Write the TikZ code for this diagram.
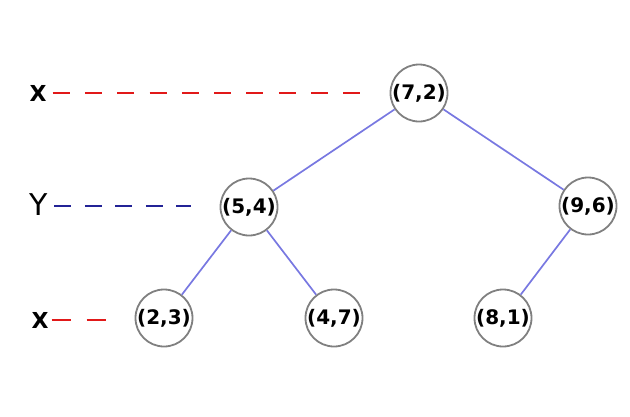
\documentclass[tikz,border=0pt]{standalone}
\usepackage{fontspec}
\setmainfont{DejaVu Sans}
\usepackage{tikz}
\usetikzlibrary{positioning, calc}

\definecolor{edgeblue}{RGB}{120,120,225}
\definecolor{guidered}{RGB}{225,25,25}
\definecolor{guideblue}{RGB}{35,35,150}
\definecolor{ringgray}{RGB}{128,128,128}

\begin{document}
\begin{tikzpicture}[
    x=1pt, y=-1pt,
    kdnode/.style={draw=ringgray, circle, line width=1.8pt, minimum size=57pt, inner sep=0pt, fill=white, font=\fontsize{20}{20}\selectfont\bfseries},
    kdedge/.style={draw=edgeblue, line width=1.7pt},
    guide/.style={line width=2pt, dash pattern=on 17pt off 15.3pt},
    axislbl/.style={inner sep=3pt, font=\fontsize{22}{22}\selectfont\bfseries}
]
    \useasboundingbox (0,0) rectangle (630,416);
    % axis labels and split guides
    \node[axislbl] (ax0) at (38,93) {X};
    \node[axislbl, inner sep=4pt, font=\fontsize{30}{30}\selectfont] (ax1) at (39,205) {Y};
    \node[axislbl] (ax2) at (40,320) {X};
    \coordinate (ge0) at (360,93);
    \coordinate (ge1) at (191,206);
    \coordinate (ge2) at (106,320);
    % tree nodes
    \node[kdnode] (n72) at (419,93) {(7,2)};
    \node[kdnode] (n54) at (249,207) {(5,4)};
    \node[kdnode] (n96) at (588,206) {(9,6)};
    \node[kdnode] (n23) at (164,318) {(2,3)};
    \node[kdnode] (n47) at (334,318) {(4,7)};
    \node[kdnode] (n81) at (503,318) {(8,1)};
    \draw[guide, guidered] ($(ax0.east)+(3,0)$) -- (ge0);
    \draw[guide, guideblue, dash pattern=on 17pt off 13.5pt] ($(ax1.east)+(2,1)$) -- (ge1);
    \draw[guide, guidered, line width=1.5pt, dash pattern=on 19pt off 16pt] (ax2.east) -- (ge2);
    \draw[kdedge] (n72) -- (n54);
    \draw[kdedge] (n72) -- (n96);
    \draw[kdedge] (n54) -- (n23);
    \draw[kdedge] (n54) -- (n47);
    \draw[kdedge] (n96) -- (n81);
\end{tikzpicture}
\end{document}
